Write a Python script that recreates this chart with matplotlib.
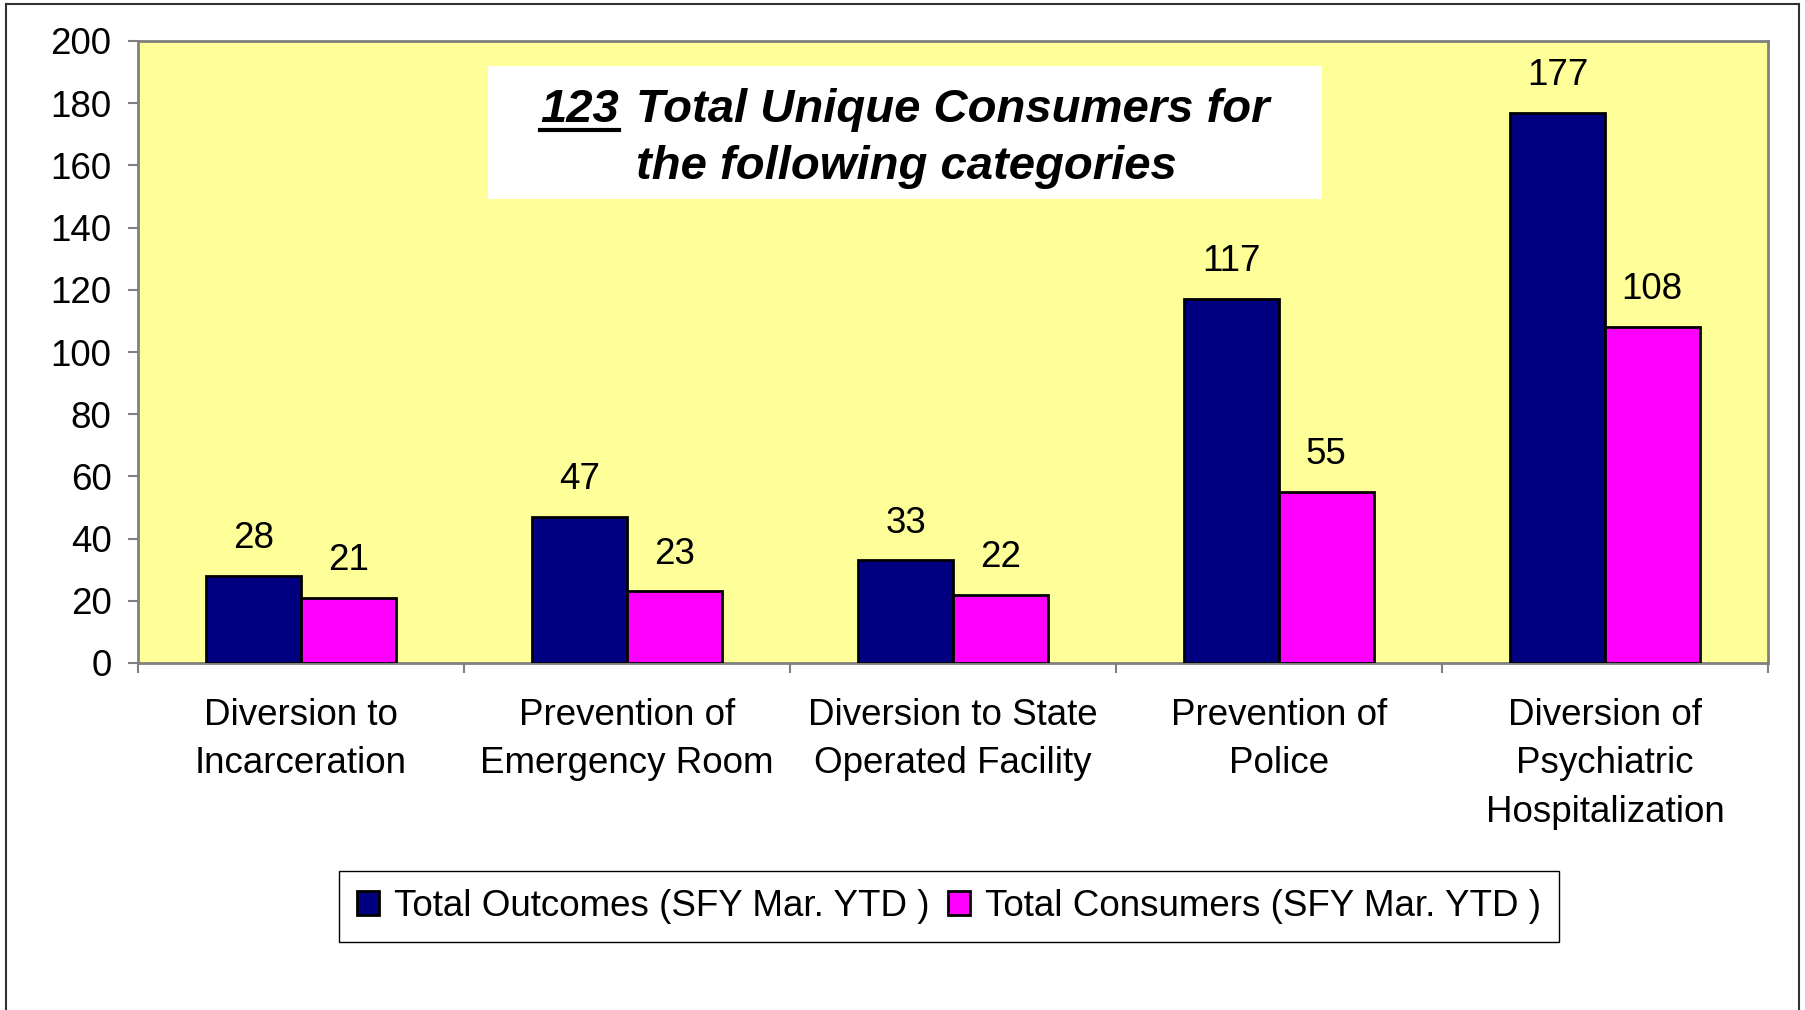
import matplotlib
matplotlib.use("Agg")
import matplotlib.pyplot as plt
from matplotlib.patches import Rectangle, Patch
from matplotlib.lines import Line2D
import numpy as np

plt.rcParams['font.family'] = ['Liberation Sans', 'DejaVu Sans']

categories = ["Diversion to\nIncarceration", "Prevention of\nEmergency Room",
              "Diversion to State\nOperated Facility", "Prevention of\nPolice",
              "Diversion of\nPsychiatric\nHospitalization"]
total_outcomes = [28, 47, 33, 117, 177]
total_consumers = [21, 23, 22, 55, 108]
series_names = ["Total Outcomes (SFY Mar. YTD )", "Total Consumers (SFY Mar. YTD )"]
yticks = [0, 20, 40, 60, 80, 100, 120, 140, 160, 180, 200]

W, H = 1806, 1010
fig = plt.figure(figsize=(W / 100, H / 100), dpi=100)

def fx(px):
    return px / W

def fy(py):
    return 1 - py / H

FS = 26.5

ax = fig.add_axes([fx(138), fy(663), fx(1768) - fx(138), fy(41) - fy(663)])
ax.set_facecolor("#FFFF99")

x = np.arange(len(categories))
bw = 0.29
b1 = ax.bar(x - 0.145, total_outcomes, width=bw, color="#000080", edgecolor="black", linewidth=2, zorder=3)
b2 = ax.bar(x + 0.145, total_consumers, width=bw, color="#FF00FF", edgecolor="black", linewidth=2, zorder=3)

for bars, vals in ((b1, total_outcomes), (b2, total_consumers)):
    for r, v in zip(bars, vals):
        ax.annotate(str(v), (r.get_x() + r.get_width() / 2, v), xytext=(0, 20),
                    textcoords="offset points", ha="center", va="baseline", fontsize=FS)

ax.set_xlim(-0.5, len(categories) - 0.5)
ax.set_ylim(0, 200)
ax.set_yticks(yticks)
ax.tick_params(axis="y", direction="out", length=7, width=1.5, color="#808080", labelsize=FS, pad=12)

ax.set_xticks(np.arange(len(categories) + 1) - 0.5)
ax.set_xticklabels([])
ax.tick_params(axis="x", which="major", direction="out", length=7, width=1.5, color="#808080")
ax.set_xticks(x, minor=True)
ax.set_xticklabels(categories, minor=True, fontsize=FS, linespacing=1.5)
ax.tick_params(axis="x", which="minor", length=0, pad=25)

for s in ax.spines.values():
    s.set_color("#808080")
    s.set_linewidth(2)

# title box
fig.patches.append(Rectangle((fx(488), fy(199)), fx(1322) - fx(488), fy(66) - fy(199),
                             transform=fig.transFigure, facecolor="white", edgecolor="none", zorder=2))

tfont = dict(fontsize=34, fontweight="bold", fontstyle="italic", va="baseline", zorder=4)
t_num = fig.text(0, fy(122), "123", **tfont)
t_rest = fig.text(0, fy(122), "Total Unique Consumers for", **tfont)
fig.text(fx(906), fy(179), "the following categories", ha="center", **tfont)

fig.canvas.draw()
r = fig.canvas.get_renderer()
w_num = t_num.get_window_extent(r).width
w_rest = t_rest.get_window_extent(r).width
gap = 17
total = w_num + gap + w_rest
left = 905 - total / 2
t_num.set_x(fx(left))
t_rest.set_x(fx(left + w_num + gap))
fig.lines.append(Line2D([fx(left), fx(left + w_num)], [fy(129.5), fy(129.5)],
                        transform=fig.transFigure, color="black", linewidth=3, zorder=4))

# legend
handles = [Patch(facecolor="#000080", edgecolor="black", linewidth=2),
           Patch(facecolor="#FF00FF", edgecolor="black", linewidth=2)]
leg = fig.legend(handles, series_names, loc="center", bbox_to_anchor=(fx(949), fy(906.5)),
                 ncol=2, fontsize=FS, frameon=True, fancybox=False, framealpha=1,
                 edgecolor="black", handlelength=0.6, handleheight=0.6, handletextpad=0.4,
                 columnspacing=0.5, borderpad=0.5, borderaxespad=0)
leg.get_frame().set_linewidth(1)

# outer border
bc = "#333333"
fig.lines.append(Line2D([fx(6), fx(6)], [0, fy(4)], transform=fig.transFigure, color=bc, linewidth=1.5))
fig.lines.append(Line2D([fx(6), fx(1799)], [fy(4), fy(4)], transform=fig.transFigure, color=bc, linewidth=1.5))
fig.lines.append(Line2D([fx(1799), fx(1799)], [0, fy(4)], transform=fig.transFigure, color=bc, linewidth=1.5))

fig.savefig("out.png", dpi=100)
